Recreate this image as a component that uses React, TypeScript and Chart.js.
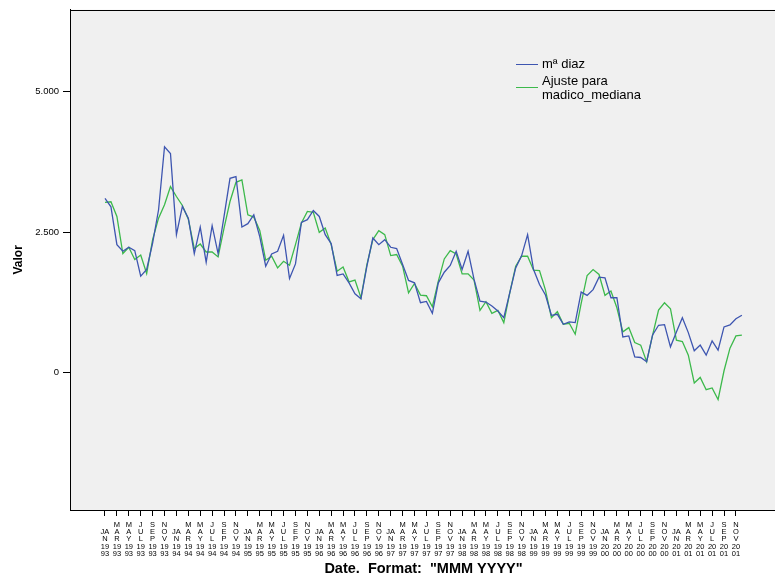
import React, { useEffect, useRef } from "react";
import { Chart, registerables } from "chart.js";

Chart.register(...registerables);

const MONTHS = ["JAN", "FEB", "MAR", "APR", "MAY", "JUN", "JUL", "AUG", "SEP", "OCT", "NOV", "DEC"];
const YEARS = ["1993", "1994", "1995", "1996", "1997", "1998", "1999", "2000", "2001"];
const categories: string[] = YEARS.flatMap((y) => MONTHS.map((m) => `${m} ${y}`));

const maDiaz = [
  3100, 2950, 2276, 2158, 2229, 2170, 1714, 1833, 2305, 2897, 4019, 3900,
  2454, 2956, 2748, 2117, 2589, 1963, 2613, 2117, 2778, 3457, 3487, 2589,
  2649, 2808, 2420, 1892, 2110, 2158, 2441, 1673, 1933, 2672, 2720, 2885,
  2778, 2454, 2294, 1727, 1755, 1596, 1401, 1312, 1892, 2394, 2276, 2365,
  2229, 2205, 1922, 1638, 1596, 1241, 1265, 1053, 1596, 1785, 1904, 2158,
  1833, 2158, 1656, 1271, 1253, 1183, 1094, 975, 1418, 1862, 2081, 2454,
  1833, 1567, 1378, 1018, 1035, 858, 899, 887, 1431, 1372, 1475, 1697,
  1684, 1330, 1330, 633, 650, 278, 266, 190, 668, 840, 850, 456,
  722, 975, 709, 385, 486, 308, 562, 397, 810, 846, 957, 1018,
];

const ajusteMediana = [
  3030, 3040, 2778, 2117, 2229, 2010, 2092, 1762, 2365, 2748, 2986, 3310,
  3133, 2973, 2730, 2206, 2287, 2145, 2145, 2057, 2571, 3044, 3386, 3429,
  2808, 2766, 2530, 1998, 2069, 1862, 1980, 1909, 2276, 2660, 2867, 2850,
  2495, 2571, 2276, 1803, 1879, 1613, 1644, 1330, 1922, 2365, 2525, 2454,
  2081, 2099, 1892, 1418, 1585, 1378, 1366, 1170, 1626, 2021, 2170, 2110,
  1755, 1755, 1644, 1106, 1259, 1053, 1106, 887, 1418, 1892, 2069, 2069,
  1821, 1815, 1466, 975, 1082, 858, 876, 681, 1230, 1727, 1833, 1745,
  1372, 1449, 1152, 722, 798, 532, 486, 190, 663, 1112, 1241, 1135,
  574, 550, 308, -188, -89, -307, -277, -484, 30, 433, 651, 663,
];

const yTickValues = [0, 2500, 5000];
const seriesNames = ["mª diaz", "Ajuste para madico_mediana"];
const legendLines = [["mª diaz"], ["Ajuste para", "madico_mediana"]];
const seriesColors = ["#3d55b0", "#3cb94b"];

const FONT = "'Liberation Sans', Arial, Helvetica, sans-serif";
const CANVAS_W = 779;
const CANVAS_H = 582;

function wrapLabel(cat: string): string[] {
  const [m, y] = cat.split(" ");
  const monthLines = m === "JAN" ? ["", "JA", "N"] : m.split("");
  return [...monthLines, y.slice(0, 2), y.slice(2)];
}

function fmt(v: number): string {
  return Math.round(v).toString().replace(/\B(?=(\d{3})+(?!\d))/g, ".");
}

const bgPlugin = {
  id: "spssBackground",
  beforeDraw(chart: any) {
    const { ctx, chartArea } = chart;
    ctx.save();
    ctx.fillStyle = "#ffffff";
    ctx.fillRect(0, 0, chart.width, chart.height);
    ctx.fillStyle = "#f0f0f0";
    ctx.fillRect(chartArea.left, chartArea.top, chartArea.right - chartArea.left, chartArea.bottom - chartArea.top);
    ctx.restore();
  },
  afterDraw(chart: any) {
    const { ctx, chartArea } = chart;
    ctx.save();
    ctx.strokeStyle = "#000";
    ctx.lineWidth = 1;
    const l = Math.round(chartArea.left) + 0.5;
    const t = Math.round(chartArea.top) + 0.5;
    const r = Math.round(chartArea.right) - 0.5;
    const b = Math.round(chartArea.bottom) + 0.5;
    ctx.strokeRect(l, t, r - l, b - t);
    ctx.restore();
  },
};

const legendPlugin = {
  id: "insideLegend",
  afterDatasetsDraw(chart: any) {
    const { ctx } = chart;
    ctx.save();
    ctx.font = `13px ${FONT}`;
    ctx.textBaseline = "middle";
    ctx.textAlign = "left";
    const x0 = 516;
    const sampleW = 22;
    const tx = 542;
    const starts = [64, 81];
    const lineGap = 14.5;
    legendLines.forEach((lines, k) => {
      const y = starts[k];
      ctx.strokeStyle = seriesColors[k];
      ctx.lineWidth = 1;
      const sy = lines.length > 1 ? y + lineGap * 0.42 : y;
      ctx.beginPath();
      ctx.moveTo(x0, Math.round(sy) + 0.5);
      ctx.lineTo(x0 + sampleW, Math.round(sy) + 0.5);
      ctx.stroke();
      ctx.fillStyle = "#000";
      lines.forEach((ln, j) => ctx.fillText(ln, tx, y + j * lineGap));
    });
    ctx.restore();
  },
};

export default function App() {
  const ref = useRef<HTMLCanvasElement | null>(null);
  useEffect(() => {
    if (!ref.current) return;
    const chart = new Chart(ref.current, {
      type: "line",
      data: {
        datasets: [maDiaz, ajusteMediana].map((arr, k) => ({
          label: seriesNames[k],
          data: arr.map((v, i) => ({ x: i, y: v })),
          borderColor: seriesColors[k],
          backgroundColor: seriesColors[k],
          borderWidth: 1.3,
          pointRadius: 0,
          tension: 0,
          fill: false,
        })),
      },
      options: {
        animation: false,
        responsive: false,
        devicePixelRatio: 1,
        layout: { padding: { top: 8, right: 2, bottom: 0, left: 0 } },
        plugins: { legend: { display: false }, tooltip: { enabled: false } },
        scales: {
          x: {
            type: "linear",
            min: -5.88,
            max: 112.9,
            afterBuildTicks: (scale: any) => {
              scale.ticks = categories
                .map((_, i) => i)
                .filter((i) => i % 2 === 0)
                .map((v) => ({ value: v }));
            },
            afterFit: (scale: any) => {
              scale.height = 72;
            },
            grid: { display: true, drawOnChartArea: false, drawTicks: true, tickLength: 6, color: "#000", tickColor: "#000", tickWidth: 1 },
            border: { display: true, color: "#000", width: 1 },
            ticks: {
              autoSkip: false,
              maxRotation: 0,
              minRotation: 0,
              padding: 5,
              color: "#000",
              font: { family: FONT, size: 7.5, lineHeight: "7.3px" },
              callback: (v: any) => wrapLabel(categories[Math.round(Number(v))] || ""),
            },
            title: {
              display: true,
              text: 'Date.  Format:  "MMM YYYY"',
              color: "#000",
              font: { family: FONT, size: 14.5, weight: "bold", lineHeight: 1.2 },
              padding: { top: 0, bottom: 4 },
            },
          },
          y: {
            type: "linear",
            min: -2450,
            max: 6460,
            afterBuildTicks: (scale: any) => {
              scale.ticks = yTickValues.map((v) => ({ value: v }));
            },
            afterFit: (scale: any) => {
              scale.width = 70;
            },
            grid: { display: true, drawOnChartArea: false, drawTicks: true, tickLength: 7, color: "#000", tickColor: "#000", tickWidth: 1 },
            border: { display: true, color: "#000", width: 1 },
            ticks: {
              padding: 4,
              color: "#000",
              font: { family: FONT, size: 9.5 },
              callback: (v: any) => fmt(Number(v)),
            },
            title: {
              display: true,
              text: "Valor",
              color: "#000",
              font: { family: FONT, size: 12, weight: "bold", lineHeight: 1.2 },
              padding: { top: 11, bottom: 0 },
            },
          },
        },
      },
      plugins: [bgPlugin, legendPlugin],
    });
    return () => chart.destroy();
  }, []);

  return (
    <div style={{ position: "fixed", left: 0, top: 0, width: 775, height: 582, overflow: "hidden", background: "#fff" }}>
      <canvas ref={ref} width={CANVAS_W} height={CANVAS_H} style={{ display: "block", width: CANVAS_W, height: CANVAS_H }} />
    </div>
  );
}
